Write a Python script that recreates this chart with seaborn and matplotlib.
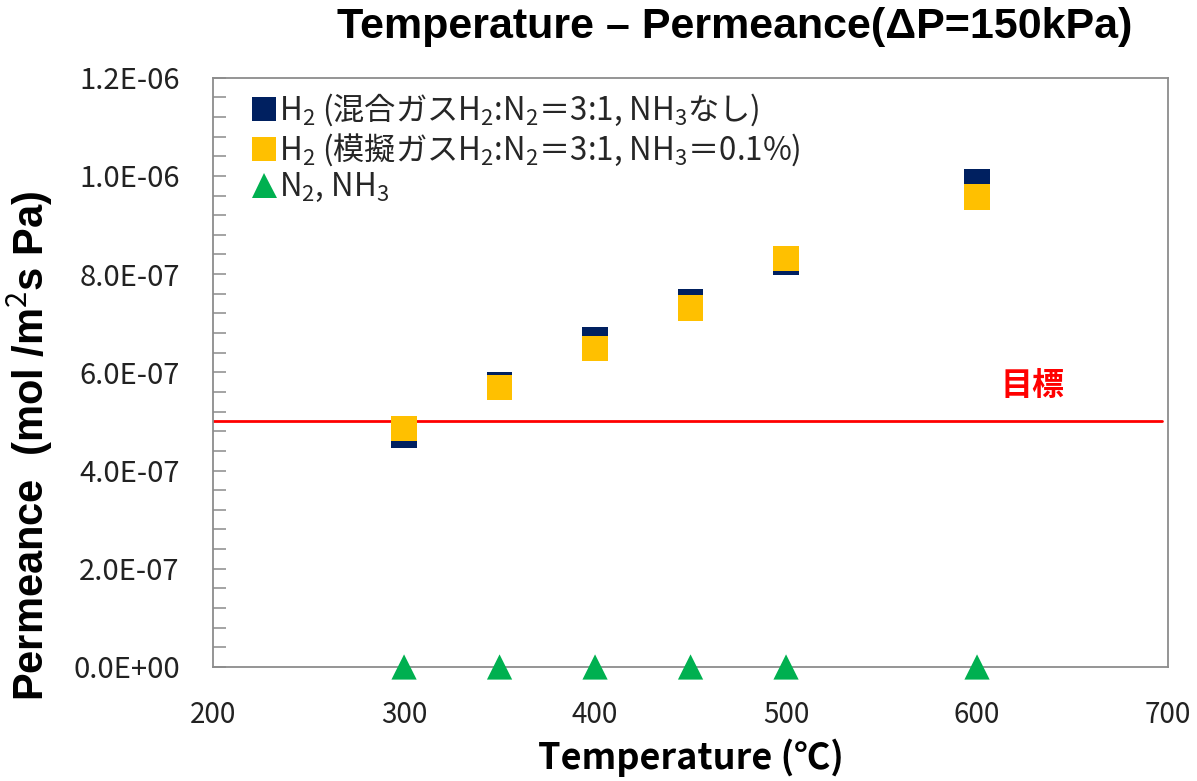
import matplotlib
matplotlib.use("Agg")
import matplotlib.pyplot as plt
import seaborn as sns
import pandas as pd
from matplotlib.ticker import MultipleLocator, FuncFormatter
from matplotlib.lines import Line2D

# ---- data ----
temps = [300, 350, 400, 450, 500, 600]
h2_mixed = [4.72e-7, 5.74e-7, 6.67e-7, 7.44e-7, 8.24e-7, 9.88e-7]
h2_sim = [4.86e-7, 5.69e-7, 6.48e-7, 7.31e-7, 8.32e-7, 9.57e-7]
n2_nh3 = [0.0, 0.0, 0.0, 0.0, 0.0, 0.0]
target = 5.0e-7

label_mixed = "H$_2$ (混合ガスH$_2$:N$_2$＝3:1, NH$_3$なし)"
label_sim = "H$_2$ (模擬ガスH$_2$:N$_2$＝3:1, NH$_3$＝0.1%)"
label_n = "N$_2$, NH$_3$"
title = "Temperature – Permeance(ΔP=150kPa)"
xlabel = "Temperature (℃)"
ylabel = "Permeance  (mol /m$^2$s Pa)"
target_label = "目標"

NAVY = "#002060"
YELLOW = "#FFC000"
GREEN = "#00B050"

sns.set_theme(style="white")
plt.rcParams['font.family'] = ['Noto Sans CJK JP', 'DejaVu Sans']
plt.rcParams['mathtext.fontset'] = 'custom'
plt.rcParams['mathtext.rm'] = 'Noto Sans CJK JP'
plt.rcParams['mathtext.it'] = 'Noto Sans CJK JP'
plt.rcParams['mathtext.bf'] = 'Noto Sans CJK JP:bold'

fig = plt.figure(figsize=(11.97, 7.81), dpi=100)
ax = fig.add_axes([0.178, 0.146, 0.7978, 0.7545])

df_m = pd.DataFrame({"T": temps, "P": h2_mixed})
df_s = pd.DataFrame({"T": temps, "P": h2_sim})
df_n = pd.DataFrame({"T": temps, "P": n2_nh3})

ax.axhline(target, xmin=0, xmax=0.994, color="#FF0000", lw=2, zorder=1)
sns.scatterplot(data=df_m, x="T", y="P", marker="s", s=330, color=NAVY,
                edgecolor="none", linewidth=0, ax=ax, zorder=3, legend=False, clip_on=False)
sns.scatterplot(data=df_s, x="T", y="P", marker="s", s=330, color=YELLOW,
                edgecolor="none", linewidth=0, ax=ax, zorder=4, legend=False, clip_on=False)
sns.scatterplot(data=df_n, x="T", y="P", marker="^", s=330, color=GREEN,
                edgecolor="none", linewidth=0, ax=ax, zorder=5, legend=False, clip_on=False)

ax.set_xlim(200, 700)
ax.set_ylim(0, 1.2e-6)
ax.xaxis.set_major_locator(MultipleLocator(100))
ax.yaxis.set_major_locator(MultipleLocator(2e-7))
ax.yaxis.set_minor_locator(MultipleLocator(4e-8))

def sci(v, pos):
    return "%.1E" % v
ax.yaxis.set_major_formatter(FuncFormatter(sci))

for sp in ax.spines.values():
    sp.set_color("#8C8C8C")
    sp.set_linewidth(1.3)

ax.tick_params(axis="y", which="both", direction="in", left=True, color="#8C8C8C",
               labelsize=21, labelcolor="#222222", pad=24)
ax.tick_params(axis="y", which="major", length=9, width=1.1)
ax.tick_params(axis="y", which="minor", length=9, width=1.1)
ax.tick_params(axis="x", which="both", length=0, labelsize=20, labelcolor="#222222", pad=24)

ax.set_xlabel(xlabel, fontsize=26, fontweight="bold", color="black", labelpad=6)
ax.set_ylabel(ylabel, fontsize=30, fontweight="bold", color="black",
              family=["Liberation Sans", "DejaVu Sans"])
ax.yaxis.set_label_coords(-0.166, 0.375)

fig.text(0.614, 0.966, title, ha="center", va="center", fontsize=31, fontweight="bold",
         family=["Liberation Sans", "DejaVu Sans"], color="black")

ax.text(629, 5.72e-7, target_label, color="#FF0000", fontsize=23, fontweight="bold",
        ha="center", va="center")

handles = [
    Line2D([], [], marker="s", color=NAVY, ls="none", markersize=17, markeredgewidth=0),
    Line2D([], [], marker="s", color=YELLOW, ls="none", markersize=17, markeredgewidth=0),
    Line2D([], [], marker="^", color=GREEN, ls="none", markersize=18, markeredgewidth=0),
]
leg = ax.legend(handles, [label_mixed, label_sim, label_n], loc="upper left",
                bbox_to_anchor=(0.03, 0.998), frameon=False, fontsize=22.5,
                handlelength=0.65, handletextpad=0.15, labelspacing=0.1, borderaxespad=0)

fig.savefig("out.png", dpi=100, facecolor="white")
